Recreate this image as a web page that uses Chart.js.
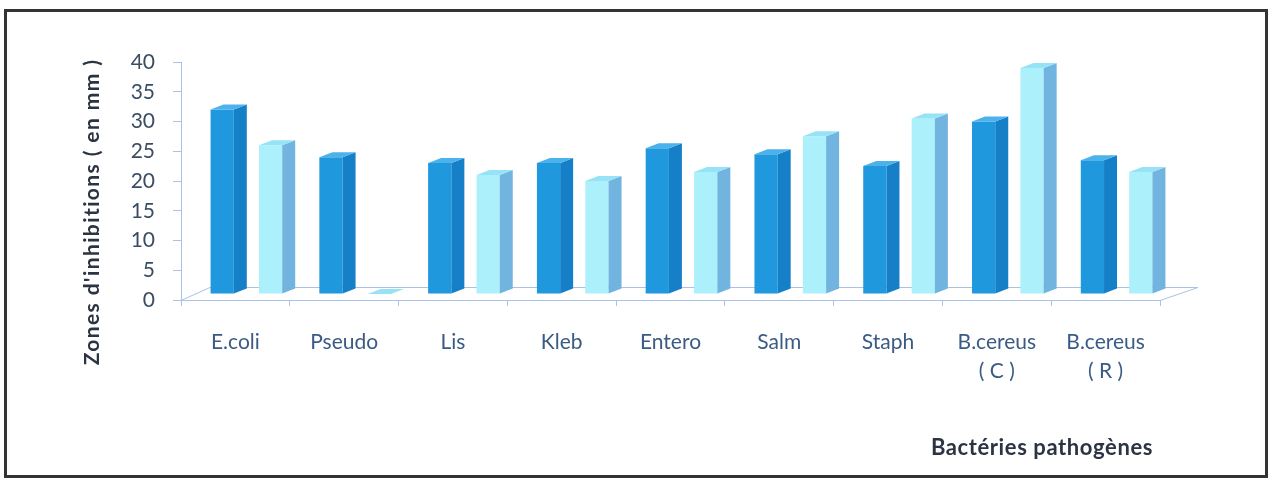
<!DOCTYPE html>
<html>
<head>
<meta charset="utf-8">
<title>Zones d'inhibitions</title>
<script src="https://cdn.jsdelivr.net/npm/chart.js@4.4.1/dist/chart.umd.min.js"></script>
<style>
  html, body { margin: 0; padding: 0; background: #fff; }
  #box { width: 1275px; height: 483px; }
</style>
</head>
<body>
<div id="box"><canvas id="chartZones" width="1275" height="483"></canvas></div>
<script>
  // bactéries testées
  var categories = ['E.coli', 'Pseudo', 'Lis', 'Kleb', 'Entero', 'Salm', 'Staph', ['B.cereus', '( C )'], ['B.cereus', '( R )']];
  // diamètres des zones d'inhibition (mm)
  var serieA = [31, 23, 22, 22, 24.5, 23.5, 21.5, 29, 22.5];
  var serieB = [25, 0, 20, 19, 20.5, 26.5, 29.5, 38, 20.5];
  var yMin = 0;
  var yMax = 40;
  var yStep = 5;

  var fontName = 'Lato';
  var axisColor = '#a9c2e6';

  // décalage des barres (profondeur) et épaisseur des faces 3D
  var shiftX = 11, shiftY = -6;
  var depthX = 13, depthY = -5;

  var faces = [
    { side: '#1580c8', top: '#4cb2ec' },
    { side: '#72b4e0', top: '#96e2f6' }
  ];

  var cadre = {
    id: 'cadre',
    beforeDraw: function (chart) {
      var c = chart.ctx;
      c.save();
      c.fillStyle = '#fff';
      c.fillRect(0, 0, chart.width, chart.height);
      c.strokeStyle = '#333';
      c.lineWidth = 3;
      c.strokeRect(5.5, 10.5, 1261, 466);
      c.restore();
    }
  };

  // sol de la vue 3D
  var sol = {
    id: 'sol',
    beforeDatasetsDraw: function (chart) {
      var a = chart.chartArea;
      var c = chart.ctx;
      c.save();
      c.strokeStyle = axisColor;
      c.lineWidth = 1;
      c.beginPath();
      c.moveTo(a.left, a.bottom + 0.5);
      c.lineTo(a.left + 29, a.bottom - 12.5);
      c.lineTo(a.right + 38, a.bottom - 12.5);
      c.lineTo(a.right, a.bottom + 0.5);
      c.stroke();
      c.restore();
    }
  };

  var relief = {
    id: 'relief',
    beforeDatasetsDraw: function (chart) {
      chart.ctx.save();
      chart.ctx.translate(shiftX, shiftY);
    },
    afterDatasetsDraw: function (chart) {
      var c = chart.ctx;
      chart.data.datasets.forEach(function (ds, i) {
        var meta = chart.getDatasetMeta(i);
        meta.data.forEach(function (bar) {
          var p = bar.getProps(['x', 'y', 'base', 'width'], true);
          var l = p.x - p.width / 2;
          var r = p.x + p.width / 2;
          var top = Math.min(p.y, p.base);
          var bas = p.base;
          // face latérale
          c.fillStyle = faces[i].side;
          c.beginPath();
          c.moveTo(r, top);
          c.lineTo(r + depthX, top + depthY);
          c.lineTo(r + depthX, bas + depthY);
          c.lineTo(r, bas);
          c.closePath();
          c.fill();
          // dessus
          c.fillStyle = faces[i].top;
          c.beginPath();
          c.moveTo(l, top);
          c.lineTo(l + depthX, top + depthY);
          c.lineTo(r + depthX, top + depthY);
          c.lineTo(r, top);
          c.closePath();
          c.fill();
        });
      });
      c.restore();
    }
  };

  var titres = {
    id: 'titres',
    afterDraw: function (chart) {
      var c = chart.ctx;
      c.save();
      c.fillStyle = '#2b3442';
      c.font = 'bold 22px ' + fontName;
      c.letterSpacing = '0.6px';
      c.textAlign = 'right';
      c.textBaseline = 'middle';
      c.fillText('Bactéries pathogènes', 1153, 448);
      c.font = 'bold 21px ' + fontName;
      c.letterSpacing = '1.4px';
      c.translate(92, 212);
      c.rotate(-Math.PI / 2);
      c.textAlign = 'center';
      c.fillText("Zones d'inhibitions ( en mm )", 0, 0);
      c.restore();
    }
  };

  var ctx = document.getElementById('chartZones');
  var chartZones = new Chart(ctx, {
    type: 'bar',
    plugins: [cadre, sol, relief, titres],
    data: {
      labels: categories,
      datasets: [
        {
          label: 'Série 1',
          data: serieA,
          backgroundColor: '#1f98de',
          borderWidth: 0,
          clip: false
        },
        {
          label: 'Série 2',
          data: serieB,
          backgroundColor: '#abf0fb',
          borderWidth: 0,
          clip: false
        }
      ]
    },
    options: {
      responsive: false,
      animation: false,
      categoryPercentage: 0.89,
      barPercentage: 0.48,
      layout: {
        padding: { top: 62, right: 115, left: 0, bottom: 0 }
      },
      scales: {
        y: {
          min: yMin,
          max: yMax,
          ticks: {
            stepSize: yStep,
            padding: 18,
            color: '#3c4d63',
            font: { family: fontName, size: 21 }
          },
          grid: {
            drawOnChartArea: false,
            drawTicks: true,
            tickLength: 8,
            color: axisColor
          },
          border: { color: axisColor },
          afterFit: function (scale) {
            scale.width = 181;
          }
        },
        x: {
          ticks: {
            padding: 22,
            color: '#3a5b85',
            font: { family: fontName, size: 21, lineHeight: 1.38 }
          },
          grid: {
            drawOnChartArea: false,
            drawTicks: true,
            tickLength: 6,
            color: axisColor
          },
          border: { color: axisColor },
          afterFit: function (scale) {
            scale.height = 183;
          }
        }
      },
      plugins: {
        legend: { display: false },
        tooltip: { enabled: false }
      }
    }
  });
</script>
</body>
</html>
